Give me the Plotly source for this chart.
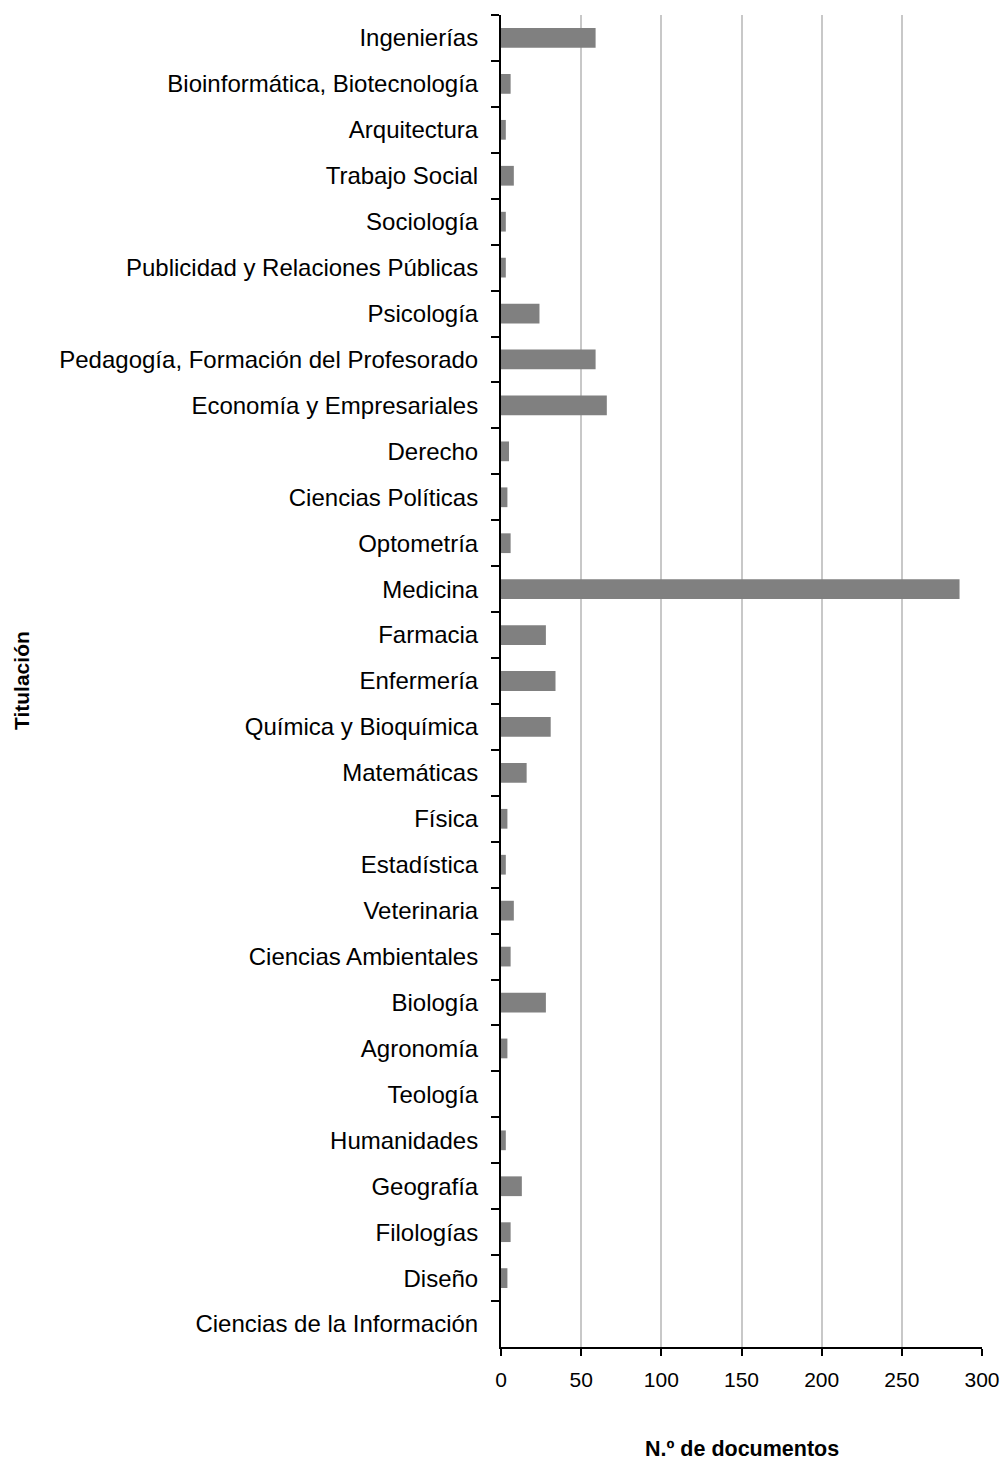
import plotly.graph_objects as go

# Degrees (top to bottom) and number of documents per degree
titulaciones = [
    "Ingenierías", "Bioinformática, Biotecnología", "Arquitectura", "Trabajo Social",
    "Sociología", "Publicidad y Relaciones Públicas", "Psicología",
    "Pedagogía, Formación del Profesorado", "Economía y Empresariales", "Derecho",
    "Ciencias Políticas", "Optometría", "Medicina", "Farmacia", "Enfermería",
    "Química y Bioquímica", "Matemáticas", "Física", "Estadística", "Veterinaria",
    "Ciencias Ambientales", "Biología", "Agronomía", "Teología", "Humanidades",
    "Geografía", "Filologías", "Diseño", "Ciencias de la Información",
]
documentos = [59, 6, 3, 8, 3, 3, 24, 59, 66, 5, 4, 6, 286, 28, 34, 31, 16, 4, 3, 8,
              6, 28, 4, 0, 3, 13, 6, 4, 0]

x_ticks = [0, 50, 100, 150, 200, 250, 300]

font_family = "Liberation Sans, Arial, sans-serif"

W, H = 1006, 1463
ML, MR, MT, MB = 501, 24, 15, 116

fig = go.Figure(
    go.Bar(
        x=documentos,
        y=titulaciones,
        orientation="h",
        marker=dict(color="#808080", line=dict(width=0)),
        width=0.43,
    )
)

fig.update_layout(
    width=W,
    height=H,
    margin=dict(l=ML, r=MR, t=MT, b=MB, autoexpand=False),
    paper_bgcolor="white",
    plot_bgcolor="white",
    showlegend=False,
    font=dict(family=font_family, size=20, color="black"),
)

fig.update_xaxes(
    range=[0, 300],
    tickvals=x_ticks,
    ticktext=[str(v) for v in x_ticks],
    automargin=False,
    showgrid=True,
    gridcolor="#c8c8c8",
    gridwidth=2,
    zeroline=False,
    showline=True,
    linecolor="black",
    linewidth=2,
    ticks="outside",
    ticklen=7,
    tickwidth=2,
    tickcolor="black",
    ticklabelstandoff=6,
    tickfont=dict(size=21),
)

fig.update_yaxes(
    categoryorder="array",
    categoryarray=titulaciones,
    autorange="reversed",
    tickson="boundaries",
    automargin=False,
    showgrid=False,
    showline=True,
    linecolor="black",
    linewidth=2,
    ticks="outside",
    ticklen=8,
    tickwidth=2,
    tickcolor="black",
    ticklabelstandoff=16,
    tickfont=dict(size=24),
)

# Axis titles, positioned in page pixels converted to paper coordinates
pw, ph = W - ML - MR, H - MT - MB
fig.add_annotation(
    text="<b>Titulación</b>",
    x=(21 - ML) / pw, y=1 - (681 - MT) / ph,
    xref="paper", yref="paper", xanchor="center", yanchor="middle",
    textangle=-90, showarrow=False, font=dict(size=21),
)
fig.add_annotation(
    text="<b>N.º de documentos</b>",
    x=(742 - ML) / pw, y=1 - (1449 - MT) / ph,
    xref="paper", yref="paper", xanchor="center", yanchor="middle",
    showarrow=False, font=dict(size=21.5),
)

fig.write_html("out.html")
